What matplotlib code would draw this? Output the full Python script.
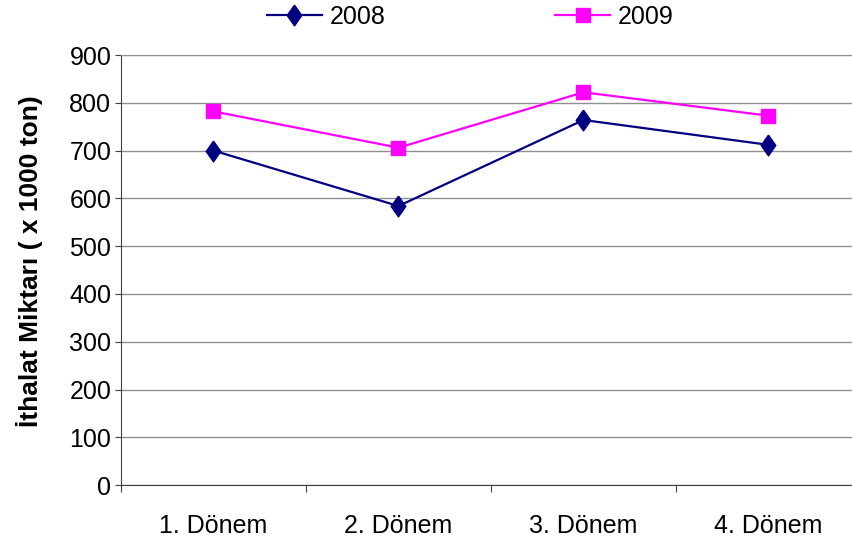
import matplotlib.pyplot as plt

categories = ['1. Dönem', '2. Dönem', '3. Dönem', '4. Dönem']
values_2008 = [700, 584, 764, 712]
values_2009 = [782, 706, 822, 773]
series_labels = ['2008', '2009']

plt.rcParams['font.family'] = ['Liberation Sans', 'DejaVu Sans']

fig = plt.figure(figsize=(8.52, 5.42), dpi=100)
ax = fig.add_axes([0.1420, 0.105, 0.8580, 0.7935])

# diamond a bit taller than wide, like the original
diamond = [(0, 1), (0.7, 0), (0, -1), (-0.7, 0), (0, 1)]

x = list(range(1, len(categories) + 1))
l1, = ax.plot(x, values_2008, color='#000080', lw=1.6, marker=diamond, markersize=15,
              label=series_labels[0], clip_on=False, zorder=3)
l2, = ax.plot(x, values_2009, color='#FF00FF', lw=1.6, marker='s', markersize=9.5,
              label=series_labels[1], clip_on=False, zorder=3)

ax.set_ylim(0, 900)
ax.set_yticks(range(0, 901, 100))
ax.set_xlim(0.5, 0.5 + 731 / 185)
ax.set_xticks([0.5, 1.5, 2.5, 3.5])
ax.set_xticklabels([])
ax.set_xticks(x, minor=True)
ax.set_xticklabels(categories, minor=True)
ax.tick_params(axis='x', which='minor', length=0, pad=21, labelsize=18)
ax.tick_params(axis='x', which='major', length=5, direction='out', color='#404040')
ax.tick_params(axis='y', length=4, direction='out', labelsize=18, pad=3, color='#404040')

ax.yaxis.grid(True, color='#909090', lw=1)
ax.set_axisbelow(True)
ax.spines['right'].set_visible(False)
ax.spines['top'].set_color('#909090')
ax.spines['left'].set_color('#404040')
ax.spines['bottom'].set_color('#404040')

ax.set_ylabel('İthalat Miktarı ( x 1000 ton)', fontsize=19, fontweight='bold')
ax.yaxis.set_label_coords(-0.106, 0.52)

fig.legend(handles=[l1, l2], loc='center', bbox_to_anchor=(0.552, 0.969), ncol=2,
           frameon=False, fontsize=18, columnspacing=6.8, handlelength=2.2,
           handletextpad=0.3, borderpad=0)

fig.savefig('out.png', dpi=100)
